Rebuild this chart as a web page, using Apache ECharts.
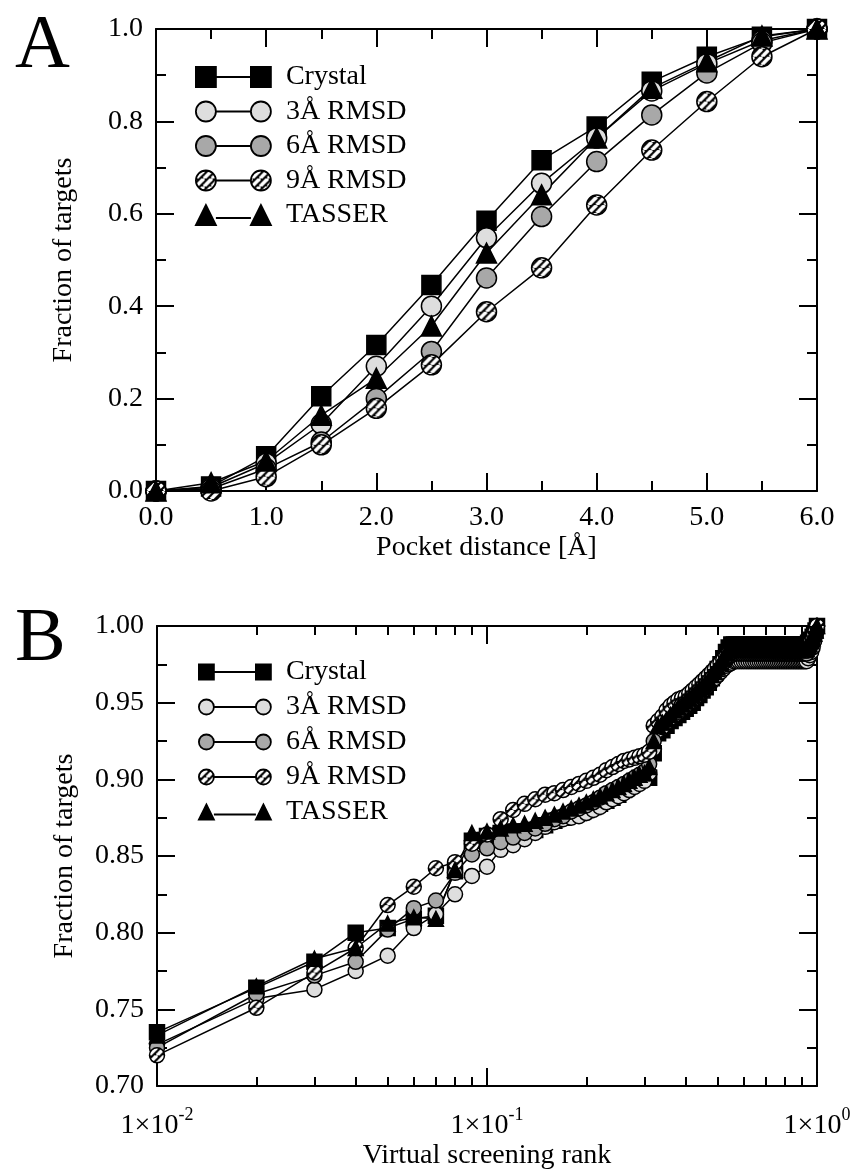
<!DOCTYPE html>
<html>
<head>
<meta charset="utf-8">
<title>Pocket distance and virtual screening rank</title>
<script src="https://cdn.jsdelivr.net/npm/echarts@6/dist/echarts.min.js"></script>
<style>
  html, body { margin: 0; padding: 0; background: #fff; }
  #chart { width: 855px; height: 1171px; }
</style>
</head>
<body>
<div id="chart"></div>
<script>
// ---- panel A: fraction of targets vs pocket distance ----
const distances = [0.0, 0.5, 1.0, 1.5, 2.0, 2.5, 3.0, 3.5, 4.0, 4.5, 5.0, 5.5, 6.0];
const crystalA = [0, 0.010, 0.075, 0.205, 0.316, 0.446, 0.585, 0.716, 0.789, 0.886, 0.940, 0.983, 1.0];
const rmsd3A   = [0, 0.008, 0.060, 0.145, 0.270, 0.400, 0.548, 0.666, 0.764, 0.866, 0.925, 0.975, 1.0];
const rmsd6A   = [0, 0.005, 0.048, 0.106, 0.200, 0.302, 0.461, 0.594, 0.713, 0.814, 0.905, 0.970, 1.0];
const rmsd9A   = [0, 0.000, 0.031, 0.100, 0.179, 0.273, 0.388, 0.483, 0.619, 0.738, 0.843, 0.940, 1.0];
const tasserA  = [0, 0.018, 0.065, 0.164, 0.244, 0.357, 0.515, 0.641, 0.764, 0.872, 0.929, 0.985, 1.0];

// ---- panel B: fraction of targets vs virtual screening rank ----
const ranks = [
  0.01, 0.02, 0.03, 0.04, 0.05, 0.06, 0.07, 0.08, 0.09, 0.10,
  0.11, 0.12, 0.13, 0.14, 0.15, 0.16, 0.17, 0.18, 0.19, 0.20,
  0.21, 0.22, 0.23, 0.24, 0.25, 0.26, 0.27, 0.28, 0.29, 0.30,
  0.31, 0.32, 0.33, 0.34, 0.35, 0.36, 0.37, 0.38, 0.39, 0.40,
  0.41, 0.42, 0.43, 0.44, 0.45, 0.46, 0.47, 0.48, 0.49, 0.50,
  0.51, 0.52, 0.53, 0.54, 0.55, 0.56, 0.57, 0.58, 0.59, 0.60,
  0.61, 0.62, 0.63, 0.64, 0.65, 0.66, 0.67, 0.68, 0.69, 0.70,
  0.71, 0.72, 0.73, 0.74, 0.75, 0.76, 0.77, 0.78, 0.79, 0.80,
  0.81, 0.82, 0.83, 0.84, 0.85, 0.86, 0.87, 0.88, 0.89, 0.90,
  0.91, 0.92, 0.93, 0.94, 0.95, 0.96, 0.97, 0.98, 0.99, 1.00
];
const crystalB = [
  0.735, 0.764, 0.781, 0.800, 0.803, 0.809, 0.811, 0.840, 0.860, 0.863,
  0.865, 0.866, 0.866, 0.867, 0.870, 0.873, 0.875, 0.877, 0.878, 0.880,
  0.882, 0.884, 0.886, 0.888, 0.890, 0.893, 0.896, 0.899, 0.901, 0.901,
  0.901, 0.917, 0.930, 0.932, 0.935, 0.938, 0.940, 0.942, 0.944, 0.946,
  0.948, 0.950, 0.953, 0.955, 0.958, 0.960, 0.963, 0.966, 0.969, 0.972,
  0.975, 0.979, 0.983, 0.986, 0.988, 0.988, 0.988, 0.988, 0.988, 0.988,
  0.988, 0.988, 0.988, 0.988, 0.988, 0.988, 0.988, 0.988, 0.988, 0.988,
  0.988, 0.988, 0.988, 0.988, 0.988, 0.988, 0.988, 0.988, 0.988, 0.988,
  0.988, 0.988, 0.988, 0.988, 0.988, 0.988, 0.988, 0.988, 0.988, 0.988,
  0.988, 0.988, 0.988, 0.989, 0.990, 0.991, 0.993, 0.995, 0.997, 1.000
];
const rmsd3B = [
  0.727, 0.757, 0.763, 0.775, 0.785, 0.803, 0.812, 0.825, 0.837, 0.843,
  0.854, 0.857, 0.861, 0.865, 0.869, 0.872, 0.874, 0.875, 0.876, 0.878,
  0.880, 0.882, 0.885, 0.887, 0.889, 0.891, 0.893, 0.895, 0.897, 0.899,
  0.904, 0.920, 0.932, 0.934, 0.937, 0.940, 0.942, 0.944, 0.946, 0.948,
  0.950, 0.952, 0.954, 0.956, 0.958, 0.960, 0.962, 0.964, 0.966, 0.968,
  0.970, 0.972, 0.974, 0.975, 0.976, 0.977, 0.977, 0.977, 0.977, 0.977,
  0.977, 0.977, 0.977, 0.977, 0.977, 0.977, 0.977, 0.977, 0.977, 0.977,
  0.977, 0.977, 0.977, 0.977, 0.977, 0.977, 0.977, 0.977, 0.977, 0.977,
  0.977, 0.977, 0.977, 0.977, 0.977, 0.977, 0.977, 0.977, 0.977, 0.977,
  0.977, 0.977, 0.977, 0.979, 0.981, 0.983, 0.986, 0.990, 0.995, 1.000
];
const rmsd6B = [
  0.725, 0.760, 0.772, 0.781, 0.802, 0.816, 0.821, 0.839, 0.851, 0.855,
  0.859, 0.862, 0.865, 0.868, 0.871, 0.874, 0.876, 0.879, 0.881, 0.883,
  0.885, 0.888, 0.891, 0.893, 0.895, 0.897, 0.899, 0.901, 0.903, 0.905,
  0.910, 0.925, 0.935, 0.937, 0.940, 0.943, 0.946, 0.948, 0.950, 0.952,
  0.954, 0.956, 0.958, 0.960, 0.962, 0.964, 0.966, 0.968, 0.970, 0.972,
  0.974, 0.976, 0.978, 0.980, 0.981, 0.982, 0.982, 0.982, 0.982, 0.982,
  0.982, 0.982, 0.982, 0.982, 0.982, 0.982, 0.982, 0.982, 0.982, 0.982,
  0.982, 0.982, 0.982, 0.982, 0.982, 0.982, 0.982, 0.982, 0.982, 0.982,
  0.982, 0.982, 0.982, 0.982, 0.982, 0.982, 0.982, 0.982, 0.982, 0.982,
  0.982, 0.982, 0.982, 0.984, 0.986, 0.988, 0.990, 0.993, 0.996, 1.000
];
const rmsd9B = [
  0.720, 0.751, 0.774, 0.790, 0.818, 0.830, 0.842, 0.846, 0.858, 0.864,
  0.874, 0.880, 0.884, 0.887, 0.890, 0.891, 0.893, 0.895, 0.897, 0.899,
  0.901, 0.903, 0.906, 0.908, 0.910, 0.912, 0.913, 0.914, 0.915, 0.916,
  0.918, 0.935, 0.938, 0.941, 0.945, 0.948, 0.950, 0.952, 0.953, 0.954,
  0.956, 0.958, 0.960, 0.962, 0.964, 0.966, 0.968, 0.970, 0.972, 0.974,
  0.976, 0.978, 0.980, 0.982, 0.983, 0.984, 0.984, 0.984, 0.984, 0.984,
  0.984, 0.984, 0.984, 0.984, 0.984, 0.984, 0.984, 0.984, 0.984, 0.984,
  0.984, 0.984, 0.984, 0.984, 0.984, 0.984, 0.984, 0.984, 0.984, 0.984,
  0.984, 0.984, 0.984, 0.984, 0.984, 0.984, 0.984, 0.984, 0.984, 0.984,
  0.984, 0.984, 0.984, 0.986, 0.988, 0.990, 0.992, 0.994, 0.997, 1.000
];
const tasserB = [
  0.733, 0.765, 0.783, 0.790, 0.806, 0.810, 0.809, 0.841, 0.865, 0.866,
  0.868, 0.870, 0.871, 0.873, 0.875, 0.877, 0.879, 0.881, 0.883, 0.885,
  0.887, 0.889, 0.891, 0.893, 0.895, 0.897, 0.899, 0.901, 0.903, 0.904,
  0.908, 0.925, 0.935, 0.937, 0.939, 0.942, 0.945, 0.947, 0.949, 0.951,
  0.953, 0.955, 0.957, 0.959, 0.961, 0.963, 0.965, 0.968, 0.970, 0.973,
  0.976, 0.979, 0.982, 0.984, 0.985, 0.985, 0.985, 0.985, 0.985, 0.985,
  0.985, 0.985, 0.985, 0.985, 0.985, 0.985, 0.985, 0.985, 0.985, 0.985,
  0.985, 0.985, 0.985, 0.985, 0.985, 0.985, 0.985, 0.985, 0.985, 0.985,
  0.985, 0.985, 0.985, 0.985, 0.985, 0.985, 0.985, 0.985, 0.985, 0.985,
  0.985, 0.985, 0.985, 0.987, 0.988, 0.990, 0.992, 0.995, 0.997, 1.000
];
// minor tick positions on the log axis (2..9 x decade)
const minorRanks = [0.02, 0.03, 0.04, 0.05, 0.06, 0.07, 0.08, 0.09,
                    0.2, 0.3, 0.4, 0.5, 0.6, 0.7, 0.8, 0.9];

const names = ['Crystal', '3Å RMSD', '6Å RMSD', '9Å RMSD', 'TASSER'];

const FONT = 'Liberation Serif';
const LIGHT = '#dedede';
const MID = '#a8a8a8';

// black/white diagonal hatch used for the 9Å markers
function hatch(scale) {
  const p = 8;
  const c = document.createElement('canvas');
  c.width = p; c.height = p;
  const ctx = c.getContext('2d');
  ctx.fillStyle = '#000';
  ctx.fillRect(0, 0, p, p);
  ctx.strokeStyle = '#fff';
  ctx.lineWidth = 3.6;
  [-p, 0, p].forEach(k => {
    ctx.beginPath();
    ctx.moveTo(k, p);
    ctx.lineTo(k + p, 0);
    ctx.stroke();
  });
  return { image: c, repeat: 'repeat', scaleX: scale, scaleY: scale };
}

function pairs(xs, ys) {
  return xs.map((x, i) => [x, ys[i]]);
}

function lineSeries(name, data, symbol, fill, size, xi, yi) {
  return {
    type: 'line',
    name: name,
    data: data,
    xAxisIndex: xi,
    yAxisIndex: yi,
    symbol: symbol,
    symbolSize: size,
    showAllSymbol: true,
    clip: false,
    itemStyle: { color: fill, borderColor: '#000', borderWidth: 1.5 },
    lineStyle: { color: '#000', width: 1.5 },
    emphasis: { disabled: true }
  };
}

const labelStyle = { fontFamily: FONT, fontSize: 28, color: '#000' };
const nameStyle = { fontFamily: FONT, fontSize: 28, color: '#000' };
const lineStyleAxis = { color: '#000', width: 2 };

function valueAxis(extra) {
  return Object.assign({
    type: 'value',
    axisLine: { show: true, onZero: false, lineStyle: lineStyleAxis },
    axisTick: { show: true, inside: true, length: 18, lineStyle: lineStyleAxis },
    minorTick: { show: true, splitNumber: 2, length: 10, lineStyle: lineStyleAxis },
    splitLine: { show: false },
    axisLabel: Object.assign({ margin: 13 }, labelStyle)
  }, extra);
}

// legend icons: marker - line - marker
const iconA = {
  rect: 'path://M0,0H20V20H0Z M20,10H55 M55,0H75V20H55Z',
  circle: 'path://M0,10A10,10,0,1,1,20,10A10,10,0,1,1,0,10Z M20,10H55 M55,10A10,10,0,1,1,75,10A10,10,0,1,1,55,10Z',
  triangle: 'path://M10,0L20,20H0Z M20,13H55 M65,0L75,20H55Z'
};
const iconB = {
  rect: 'path://M0,0H15V15H0Z M15,7.5H57 M57,0H72V15H57Z',
  circle: 'path://M0,7.5A7.5,7.5,0,1,1,15,7.5A7.5,7.5,0,1,1,0,7.5Z M15,7.5H57 M57,7.5A7.5,7.5,0,1,1,72,7.5A7.5,7.5,0,1,1,57,7.5Z',
  triangle: 'path://M7.5,0L15,15H0Z M15,10H57 M64.5,0L72,15H57Z'
};
const symbols = ['rect', 'circle', 'circle', 'circle', 'triangle'];
const fillsLegend = ['#000', LIGHT, MID, hatch(1), '#000'];

function legendData(icons) {
  return names.map((n, i) => ({
    name: n,
    icon: icons[symbols[i]],
    itemStyle: { color: fillsLegend[i], borderColor: '#000', borderWidth: 1.8 }
  }));
}

const chart = echarts.init(document.getElementById('chart'), null, { renderer: 'canvas' });

const option = {
  animation: false,
  backgroundColor: '#fff',
  title: [
    { text: 'A', left: 10, top: 4, textStyle: { fontFamily: FONT, fontSize: 76, fontWeight: 'normal', color: '#000' } },
    { text: 'B', left: 10, top: 597, textStyle: { fontFamily: FONT, fontSize: 76, fontWeight: 'normal', color: '#000' } }
  ],
  legend: [
    {
      orient: 'vertical', left: 195, top: 63, padding: 0,
      itemWidth: 75, itemHeight: 20, itemGap: 6.5,
      selectedMode: false,
      data: legendData(iconA),
      textStyle: { fontFamily: FONT, fontSize: 28, color: '#000', padding: [0, 0, 0, 10] }
    },
    {
      orient: 'vertical', left: 198, top: 658, padding: 0,
      itemWidth: 72, itemHeight: 15, itemGap: 7,
      selectedMode: false,
      data: legendData(iconB),
      textStyle: { fontFamily: FONT, fontSize: 28, color: '#000', padding: [0, 0, 0, 10] }
    }
  ],
  grid: [
    { left: 156, top: 29, width: 661, height: 462, containLabel: false, outerBoundsMode: 'none' },
    { left: 157, top: 626, width: 660, height: 460, containLabel: false, outerBoundsMode: 'none' }
  ],
  xAxis: [
    valueAxis({
      gridIndex: 0, position: 'bottom', min: 0, max: 6, interval: 1,
      name: 'Pocket distance [Å]', nameLocation: 'middle', nameGap: 43, nameTextStyle: nameStyle,
      axisLabel: Object.assign({ margin: 13, formatter: v => v.toFixed(1) }, labelStyle)
    }),
    valueAxis({
      gridIndex: 0, position: 'top', min: 0, max: 6, interval: 1,
      axisLabel: { show: false }
    }),
    {
      type: 'log', logBase: 10, gridIndex: 1, position: 'bottom', min: 0.01, max: 1,
      name: 'Virtual screening rank', nameLocation: 'middle', nameGap: 56, nameTextStyle: nameStyle,
      axisLine: { show: true, onZero: false, lineStyle: lineStyleAxis },
      axisTick: { show: true, inside: true, length: 18, lineStyle: lineStyleAxis },
      splitLine: { show: false },
      axisLabel: {
        margin: 26,
        formatter: v => '{a|1×10}{s|' + Math.round(Math.log10(v)) + '}',
        rich: {
          a: { fontFamily: FONT, fontSize: 28, color: '#000', lineHeight: 28, verticalAlign: 'bottom' },
          s: { fontFamily: FONT, fontSize: 18, color: '#000', lineHeight: 18, verticalAlign: 'bottom', padding: [0, 0, 16, 0] }
        }
      }
    },
    {
      type: 'value', gridIndex: 1, position: 'bottom', min: -2, max: 0,
      axisLine: { show: false, onZero: false },
      axisTick: { show: true, inside: true, length: 9, lineStyle: lineStyleAxis, customValues: minorRanks.map(Math.log10) },
      axisLabel: { show: false },
      splitLine: { show: false }
    },
    {
      type: 'log', logBase: 10, gridIndex: 1, position: 'top', min: 0.01, max: 1,
      axisLine: { show: true, onZero: false, lineStyle: lineStyleAxis },
      axisTick: { show: true, inside: true, length: 18, lineStyle: lineStyleAxis },
      splitLine: { show: false },
      axisLabel: { show: false }
    },
    {
      type: 'value', gridIndex: 1, position: 'top', min: -2, max: 0,
      axisLine: { show: false, onZero: false },
      axisTick: { show: true, inside: true, length: 9, lineStyle: lineStyleAxis, customValues: minorRanks.map(Math.log10) },
      axisLabel: { show: false },
      splitLine: { show: false }
    }
  ],
  yAxis: [
    valueAxis({
      gridIndex: 0, position: 'left', min: 0, max: 1, interval: 0.2,
      name: 'Fraction of targets', nameLocation: 'middle', nameRotate: 90, nameGap: 78, nameTextStyle: nameStyle,
      axisLabel: Object.assign({ margin: 13, formatter: v => v.toFixed(1) }, labelStyle)
    }),
    valueAxis({
      gridIndex: 0, position: 'right', min: 0, max: 1, interval: 0.2,
      axisLabel: { show: false }
    }),
    valueAxis({
      gridIndex: 1, position: 'left', min: 0.7, max: 1.0, interval: 0.05,
      name: 'Fraction of targets', nameLocation: 'middle', nameRotate: 90, nameGap: 78, nameTextStyle: nameStyle,
      axisLabel: Object.assign({ margin: 13, formatter: v => v.toFixed(2) }, labelStyle)
    }),
    valueAxis({
      gridIndex: 1, position: 'right', min: 0.7, max: 1.0, interval: 0.05,
      axisLabel: { show: false }
    })
  ],
  series: [
    lineSeries(names[0], pairs(distances, crystalA), 'rect', '#000', 19, 0, 0),
    lineSeries(names[1], pairs(distances, rmsd3A), 'circle', LIGHT, 20, 0, 0),
    lineSeries(names[2], pairs(distances, rmsd6A), 'circle', MID, 20, 0, 0),
    lineSeries(names[3], pairs(distances, rmsd9A), 'circle', hatch(2 / 20), 20, 0, 0),
    lineSeries(names[4], pairs(distances, tasserA), 'triangle', '#000', 20, 0, 0),

    lineSeries(names[0], pairs(ranks, crystalB), 'rect', '#000', 15, 2, 2),
    lineSeries(names[1], pairs(ranks, rmsd3B), 'circle', LIGHT, 15, 2, 2),
    lineSeries(names[2], pairs(ranks, rmsd6B), 'circle', MID, 15, 2, 2),
    lineSeries(names[3], pairs(ranks, rmsd9B), 'circle', hatch(2 / 15), 15, 2, 2),
    lineSeries(names[4], pairs(ranks, tasserB), 'triangle', '#000', 15, 2, 2)
  ]
};

chart.setOption(option);
window.addEventListener('resize', () => chart.resize());
</script>
</body>
</html>
